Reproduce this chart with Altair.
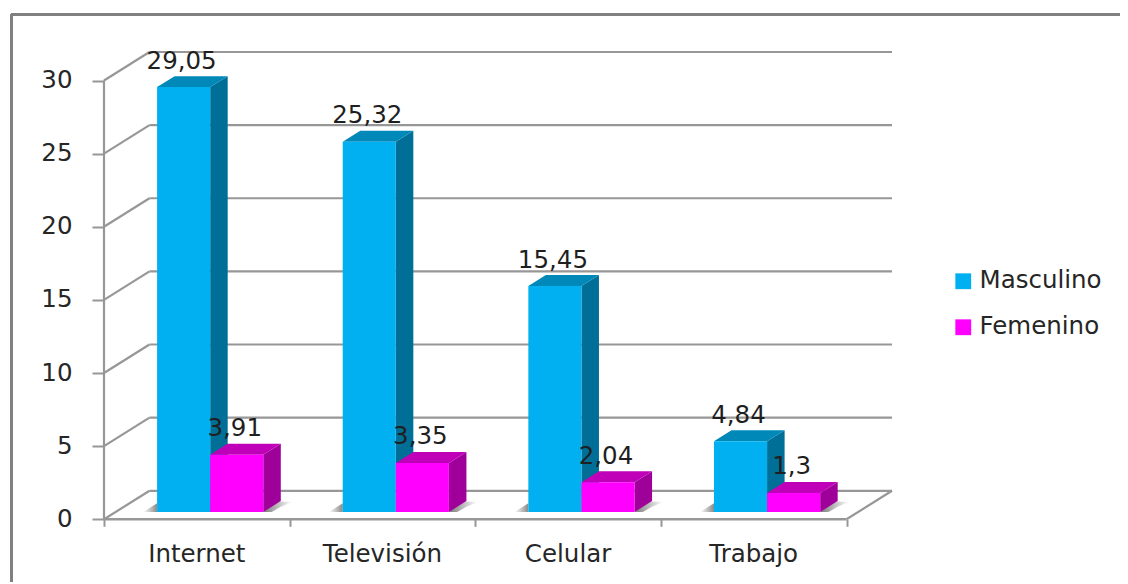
import altair as alt
import pandas as pd

categories = ["Internet", "Televisión", "Celular", "Trabajo"]
masculino = [29.05, 25.32, 15.45, 4.84]
femenino = [3.91, 3.35, 2.04, 1.3]
labels_m = ["29,05", "25,32", "15,45", "4,84"]
labels_f = ["3,91", "3,35", "2,04", "1,3"]
y_ticks = [0, 5, 10, 15, 20, 25, 30]
x_ticks = [0, 1, 2, 3, 4]

# geometry in data units (x: categories, y: value axis)
WALL_DX, WALL_DY = 0.245, 1.95
BAR_DX, BAR_DY = 0.0944, 0.75
BAR_W, BAR_START, BASE_Y = 0.286, 0.286, 0.5
FONT = "DejaVu Sans"
FS = 24.5
GRID = "#979797"
X = alt.Scale(domain=[0, 4 + WALL_DX], nice=False, zero=False)
Y = alt.Scale(domain=[0, 30 + WALL_DY], nice=False, zero=False)
X_AXIS = alt.Axis(values=x_ticks, labels=False, title=None, grid=False, domain=False,
                  tickColor=GRID, tickWidth=2, tickSize=7)
Y_AXIS = alt.Axis(values=y_ticks, title=None, grid=False, domain=False, tickColor=GRID, tickWidth=2, tickSize=12,
                  labelFont=FONT, labelFontSize=FS, labelColor="#262626", labelPadding=20, format="d")
xe = lambda f: alt.X(f, type="quantitative", scale=X, axis=X_AXIS)
ye = lambda f: alt.Y(f, type="quantitative", scale=Y, axis=Y_AXIS)

fronts, sides, tops, shadows_l, shadows_r, texts = [], [], [], [], [], []
for i, cat in enumerate(categories):
    for s, (series, vals, labs) in enumerate((("Masculino", masculino, labels_m), ("Femenino", femenino, labels_f))):
        x0 = i + BAR_START + s * BAR_W
        x1 = x0 + BAR_W
        v = vals[i] + BASE_Y
        g = f"{i}-{s}"
        fronts.append(dict(x=x0, x2=x1, y=BASE_Y, y2=v, series=series))
        sides += [dict(x=x1, lo=BASE_Y, hi=v, g=g, series=series),
                  dict(x=x1 + BAR_DX, lo=BASE_Y + BAR_DY, hi=v + BAR_DY, g=g, series=series)]
        tops += [dict(x=x0, lo=v, hi=v, g=g, series=series),
                 dict(x=x0 + BAR_DX, lo=v, hi=v + BAR_DY, g=g, series=series),
                 dict(x=x1, lo=v, hi=v + BAR_DY, g=g, series=series),
                 dict(x=x1 + BAR_DX, lo=v + BAR_DY, hi=v + BAR_DY, g=g, series=series)]
        texts.append(dict(x=(x0 + x1) / 2, y=v, t=labs[i]))
    xl = i + BAR_START
    xr = i + BAR_START + 2 * BAR_W
    shadows_l += [dict(x=xl - 0.075, lo=BASE_Y, hi=BASE_Y, g=i),
                  dict(x=xl, lo=BASE_Y, hi=BASE_Y + 0.6, g=i)]
    shadows_r += [dict(x=xr, lo=BASE_Y, hi=BASE_Y, g=i),
                  dict(x=xr + 0.045, lo=BASE_Y, hi=BASE_Y + 0.5, g=i),
                  dict(x=xr + BAR_DX, lo=BASE_Y + 0.35, hi=BASE_Y + 0.72, g=i),
                  dict(x=xr + 0.155, lo=BASE_Y + 0.68, hi=BASE_Y + 0.68, g=i)]

df_f = pd.DataFrame(fronts)
df_s = pd.DataFrame(sides)
df_t = pd.DataFrame(tops)
df_txt = pd.DataFrame(texts)

def area(df, color):
    return alt.Chart(df).mark_area(color=color, opacity=1, line=False).encode(
        x=xe("x"), y=ye("lo"), y2="hi", detail="g:N")

def shade(rows, stops):
    grad = alt.Gradient(gradient="linear", x1=0, x2=1, y1=0, y2=0,
                        stops=[alt.GradientStop(color=c, offset=o) for o, c in stops])
    return alt.Chart(pd.DataFrame(rows)).mark_area(color=grad, line=False).encode(
        x=xe("x"), y=ye("lo"), y2="hi", detail="g:N")

grid_back = alt.Chart(pd.DataFrame({"v": y_ticks})).transform_calculate(
    yy=f"datum.v + {WALL_DY}", a=f"{WALL_DX}", b=f"{4 + WALL_DX}"
).mark_rule(color=GRID, strokeWidth=2.2).encode(x=xe("a:Q"), x2="b:Q", y=ye("yy:Q"))
grid_diag = alt.Chart(pd.DataFrame({"v": y_ticks})).transform_calculate(
    yy=f"datum.v + {WALL_DY}", a="0", b=f"{WALL_DX}"
).mark_rule(color=GRID, strokeWidth=2.2).encode(x=xe("a:Q"), x2="b:Q", y=ye("v:Q"), y2="yy:Q")
right_diag = alt.Chart(pd.DataFrame({"v": [0]})).transform_calculate(
    yy=f"{WALL_DY}", a="4", b=f"{4 + WALL_DX}"
).mark_rule(color=GRID, strokeWidth=2.2).encode(x=xe("a:Q"), x2="b:Q", y=ye("v:Q"), y2="yy:Q")
left_axis = alt.Chart(pd.DataFrame({"a": [0], "b": [30], "x": [0]})).mark_rule(
    color=GRID, strokeWidth=2.2).encode(x=xe("x"), y=ye("a"), y2="b")
front_floor = alt.Chart(pd.DataFrame({"a": [0], "b": [4], "y": [0]})).mark_rule(
    color=GRID, strokeWidth=2.5).encode(x=xe("a"), x2="b", y=ye("y"))

color = alt.Color("series:N", scale=alt.Scale(domain=["Masculino", "Femenino"], range=["#00B0F0", "#FF00FF"]),
                  legend=alt.Legend(orient="none", legendX=847, legendY=217, title=None, symbolType="square",
                                    symbolSize=250, symbolStrokeWidth=0, symbolOpacity=1, labelFont=FONT, labelFontSize=FS,
                                    labelColor="#262626", rowPadding=21, labelOffset=4, labelLimit=200))
bars = alt.Chart(df_f).mark_bar(opacity=1).encode(x=xe("x"), x2="x2", y=ye("y"), y2="y2", color=color)

value_text = alt.Chart(df_txt).mark_text(font=FONT, fontSize=FS, color="#1f1f1f", baseline="alphabetic", dy=-18.5, dx=-2).encode(
    x=xe("x"), y=ye("y"), text="t:N")
cat_text = alt.Chart(pd.DataFrame({"x": [i + 0.5 for i in range(4)], "y": [0] * 4, "t": categories})).mark_text(
    font=FONT, fontSize=FS, color="#262626", baseline="alphabetic", dy=43).encode(x=xe("x"), y=ye("y"), text="t:N")

frame_h = alt.Chart(pd.DataFrame({"k": [0]})).mark_rule(color="#808080", strokeWidth=3).encode(
    x=alt.value(-93), x2=alt.value(1030), y=alt.value(-37.5))
frame_v = alt.Chart(pd.DataFrame({"k": [0]})).mark_rule(color="#808080", strokeWidth=3).encode(
    x=alt.value(-92.5), y=alt.value(-38), y2=alt.value(530))

chart = alt.layer(
    frame_h, frame_v, grid_back, grid_diag, right_diag, left_axis, front_floor,
    shade(shadows_l, [(0, "#ffffff"), (1, "#8a8a8a")]),
    shade(shadows_r, [(0, "#7a7a7a"), (1, "#ffffff")]),
    area(df_s[df_s.series == "Masculino"], "#006F98"),
    area(df_t[df_t.series == "Masculino"], "#0088B8"),
    area(df_s[df_s.series == "Femenino"], "#A0009A"),
    area(df_t[df_t.series == "Femenino"], "#C000B8"),
    bars, value_text, cat_text,
).properties(
    width=788, height=467.3,
    autosize=alt.AutoSizeParams(type="none"),
    padding={"left": 96, "top": 44, "right": 228, "bottom": 64.7},
).configure_view(stroke=None)

chart.save("out.html", embed_options={"renderer": "svg", "actions": False})
